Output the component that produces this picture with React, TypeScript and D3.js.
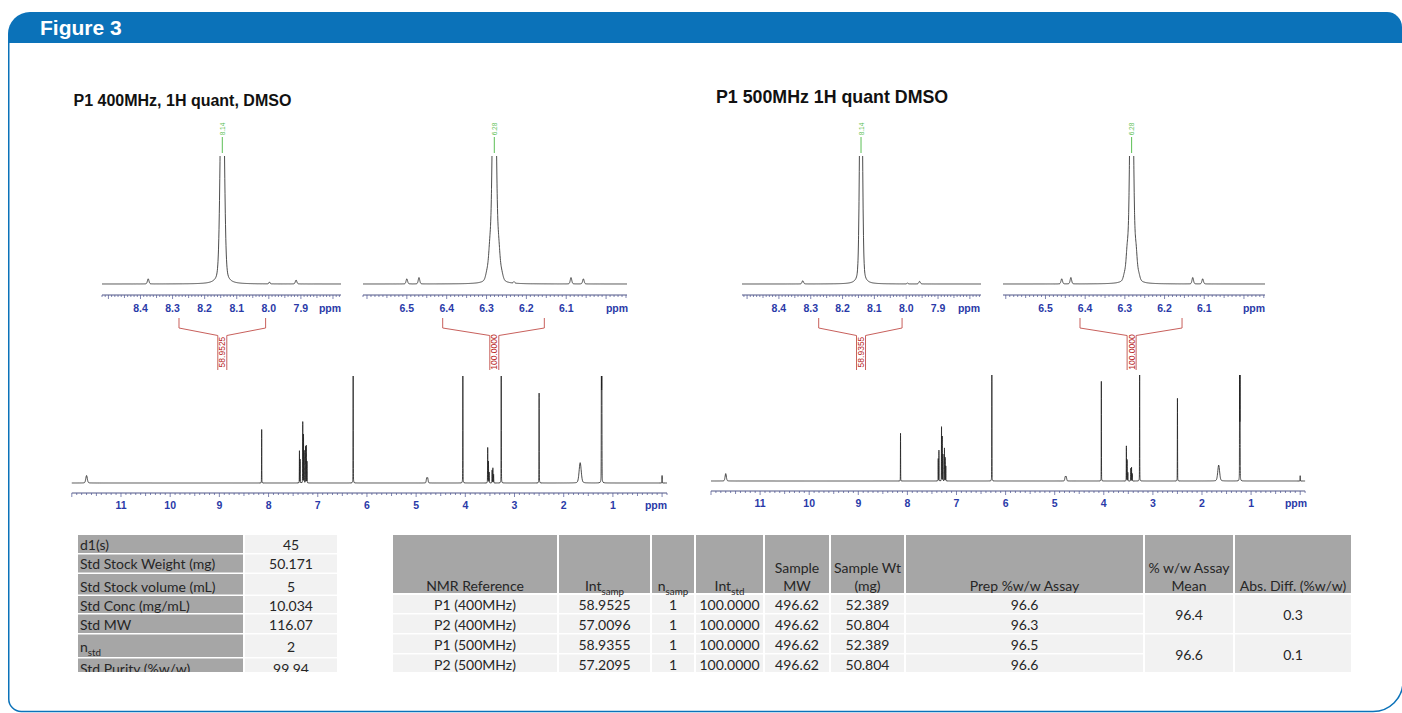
import React from 'react';
import * as d3 from 'd3';

// ---------------- DATA ----------------
const figureLabel = 'Figure 3';
const title400 = 'P1 400MHz, 1H quant, DMSO';
const title500 = 'P1 500MHz 1H quant DMSO';

// peaks: [ppm, relative height (1 = full plot window), half width (ppm)]
const main400Peaks: number[][] = [
  [11.7, 0.07, 0.018],
  [8.14, 0.5, 0.0025],
  [7.372, 0.3, 0.0025], [7.358, 0.22, 0.0025], [7.305, 0.57, 0.0025], [7.29, 0.45, 0.0025],
  [7.275, 0.3, 0.0025], [7.248, 0.34, 0.0025], [7.232, 0.35, 0.0025], [7.218, 0.2, 0.0025],
  [6.28, 1.4, 0.0025],
  [4.785, 0.045, 0.01], [4.765, 0.045, 0.01],
  [4.05, 1.4, 0.0025],
  [3.545, 0.33, 0.003], [3.53, 0.2, 0.003], [3.515, 0.1, 0.003],
  [3.455, 0.12, 0.003], [3.44, 0.14, 0.003], [3.425, 0.08, 0.003],
  [3.27, 1.4, 0.0025],
  [2.5, 0.84, 0.003],
  [1.665, 0.19, 0.025],
  [1.233, 1.4, 0.003], [1.225, 1.4, 0.003],
  [0.0, 0.07, 0.003],
];
const main500Peaks: number[][] = [
  [11.7, 0.07, 0.015],
  [8.14, 0.45, 0.0022],
  [7.372, 0.21, 0.0022], [7.358, 0.29, 0.0022], [7.305, 0.51, 0.0022], [7.29, 0.42, 0.0022],
  [7.275, 0.25, 0.0022], [7.245, 0.31, 0.0022], [7.23, 0.22, 0.0022], [7.218, 0.14, 0.0022],
  [6.28, 1.4, 0.0022],
  [4.785, 0.04, 0.01], [4.765, 0.04, 0.01],
  [4.05, 0.94, 0.0022],
  [3.54, 0.33, 0.0025], [3.525, 0.2, 0.0025], [3.51, 0.08, 0.0025],
  [3.45, 0.12, 0.0025], [3.435, 0.13, 0.0025], [3.42, 0.07, 0.0025],
  [3.27, 1.4, 0.0022],
  [2.5, 0.78, 0.0025],
  [1.66, 0.15, 0.022],
  [1.233, 1.4, 0.0025], [1.225, 1.4, 0.0025],
  [0.0, 0.05, 0.0025],
];
const insetA400Peaks: number[][] = [
  [8.145, 2.34, 0.00625], [8.376, 0.04, 0.0028], [7.998, 0.015, 0.002], [7.915, 0.03, 0.0028],
];
const insetB400Peaks: number[][] = [
  [6.2805, 2.5, 0.0048], [6.2695, 0.22, 0.004], [6.2915, 0.22, 0.004],
  [6.262, 0.05, 0.004], [6.299, 0.05, 0.004],
  [6.5, 0.04, 0.0022], [6.4695, 0.05, 0.0022], [6.231, 0.012, 0.002], [6.088, 0.05, 0.0022], [6.057, 0.04, 0.0022],
];
const insetA500Peaks: number[][] = [
  [8.142, 2.5, 0.0044], [8.325, 0.025, 0.0028], [7.996, 0.008, 0.002], [7.958, 0.02, 0.0028],
];
const insetB500Peaks: number[][] = [
  [6.283, 2.5, 0.0045], [6.272, 0.2, 0.0035], [6.294, 0.2, 0.0035],
  [6.265, 0.04, 0.0035], [6.301, 0.04, 0.0035],
  [6.459, 0.04, 0.0022], [6.436, 0.05, 0.0022], [6.129, 0.05, 0.0022], [6.104, 0.04, 0.0022],
];

// peak labels: [ppm, text]
const peakLabelA400: [number, string] = [8.145, '8.14'];
const peakLabelB400: [number, string] = [6.2805, '6.28'];
const peakLabelA500: [number, string] = [8.142, '8.14'];
const peakLabelB500: [number, string] = [6.283, '6.28'];

// integrals: [from ppm, to ppm, centre ppm, value]
const integralA400: [number, number, number, string] = [8.28, 8.01, 8.145, '58.9525'];
const integralB400: [number, number, number, string] = [6.41, 6.155, 6.2805, '100.0000'];
const integralA500: [number, number, number, string] = [8.275, 8.013, 8.142, '58.9355'];
const integralB500: [number, number, number, string] = [6.413, 6.156, 6.283, '100.0000'];

const insetTicksA = [8.4, 8.3, 8.2, 8.1, 8.0, 7.9];
const insetTicksB = [6.5, 6.4, 6.3, 6.2, 6.1];
const mainTicks = [11, 10, 9, 8, 7, 6, 5, 4, 3, 2, 1];

// left table
const stdLabels = ['d1(s)', 'Std Stock Weight (mg)', 'Std Stock volume (mL)', 'Std Conc (mg/mL)', 'Std MW', 'n|std', 'Std Purity (%w/w)'];
const stdValues = ['45', '50.171', '5', '10.034', '116.07', '2', '99.94'];

// right table
const headerLines: string[][] = [
  ['NMR Reference'], ['Int|samp'], ['n|samp'], ['Int|std'], ['Sample', 'MW'], ['Sample Wt', '(mg)'],
  ['Prep %w/w Assay'], ['% w/w Assay', 'Mean'], ['Abs. Diff. (%w/w)'],
];
const nmrRefs = ['P1 (400MHz)', 'P2 (400MHz)', 'P1 (500MHz)', 'P2 (500MHz)'];
const intSamp = ['58.9525', '57.0096', '58.9355', '57.2095'];
const nSamp = ['1', '1', '1', '1'];
const intStd = ['100.0000', '100.0000', '100.0000', '100.0000'];
const sampleMW = ['496.62', '496.62', '496.62', '496.62'];
const sampleWt = ['52.389', '50.804', '52.389', '50.804'];
const prepAssay = ['96.6', '96.3', '96.5', '96.6'];
const assayMean = ['96.4', '96.6'];
const absDiff = ['0.3', '0.1'];

// ---------------- STYLE / LAYOUT ----------------
const BLUE = '#0b72b9';
const SANS = "'Liberation Sans', Arial, Helvetica, sans-serif";
const TFONT = "Lato, 'Open Sans', sans-serif";
const AXIS_BLUE = '#2a3aa8';
const TXT = '#262626';
const HEAD_BG = '#a6a6a6';
const CELL_BG = '#f2f2f2';
const ETA = 0.25;

function pv(d: number, w: number) {
  const r = d / w;
  return ETA / (1 + r * r) + (1 - ETA) * Math.exp(-Math.LN2 * r * r);
}

function trace(peaks: number[][], dom: [number, number], pxPerPpm: number): number[][] {
  const [a, b] = dom;
  const xs: number[] = [];
  const n = Math.ceil((a - b) * pxPerPpm * 2);
  for (let i = 0; i <= n; i++) xs.push(a - ((a - b) * i) / n);
  for (const [p, , w] of peaks) {
    for (let k = -80; k <= 80; k++) {
      const x = p + (k * w) / 4;
      if (x <= a && x >= b) xs.push(x);
    }
  }
  xs.sort((u, v) => v - u);
  return xs.map((x) => [x, peaks.reduce((s, [p, h, w]) => s + h * pv(x - p, w), 0)]);
}

type SpecProps = {
  id: string;
  peaks: number[][];
  dom: [number, number];
  range: [number, number];
  base: number;
  top: number;
  axisY: number;
  labelY: number;
  ticks: number[];
  minor: number;
  mid: number;
  major: number;
  fmt: (v: number) => string;
  ppmX: number;
  lineW: number;
  fontSize: number;
};

function Spectrum(p: SpecProps) {
  const x = d3.scaleLinear().domain(p.dom).range(p.range);
  const y = d3.scaleLinear().domain([0, 1]).range([p.base, p.top]);
  const pts = trace(p.peaks, p.dom, Math.abs(p.range[1] - p.range[0]) / (p.dom[0] - p.dom[1]));
  const line = d3.line<number[]>().x((d) => x(d[0])).y((d) => y(d[1]));
  const i0 = Math.ceil(p.dom[1] / p.minor - 1e-6);
  const i1 = Math.floor(p.dom[0] / p.minor + 1e-6);
  const midN = Math.round(p.mid / p.minor);
  const majN = Math.round(p.major / p.minor);
  const tickIdx = d3.range(i0, i1 + 1);
  return (
    <g>
      <defs>
        <clipPath id={p.id}>
          <rect x={p.range[0] - 2} y={p.top} width={p.range[1] - p.range[0] + 4} height={p.base - p.top + 6} />
        </clipPath>
      </defs>
      <path d={line(pts) || ''} fill="none" stroke="#1e1e1e" strokeWidth={p.lineW} clipPath={`url(#${p.id})`} />
      <line x1={p.range[0]} x2={p.range[1]} y1={p.axisY} y2={p.axisY} stroke="#3d4478" strokeWidth={0.9} />
      {tickIdx.map((i) => {
        const len = i % majN === 0 ? 4 : i % midN === 0 ? 3 : 2;
        const xx = x(i * p.minor);
        return <line key={i} x1={xx} x2={xx} y1={p.axisY} y2={p.axisY + len} stroke="#4a5290" strokeWidth={0.7} />;
      })}
      {p.ticks.map((t) => (
        <text key={t} x={x(t)} y={p.labelY} textAnchor="middle" fontFamily={SANS} fontWeight="bold" fontSize={p.fontSize} fill={AXIS_BLUE}>
          {p.fmt(t)}
        </text>
      ))}
      <text x={p.ppmX} y={p.labelY} textAnchor="middle" fontFamily={SANS} fontWeight="bold" fontSize={p.fontSize} fill={AXIS_BLUE}>
        ppm
      </text>
    </g>
  );
}

function PeakLabel({ scale, label }: { scale: d3.ScaleLinear<number, number>; label: [number, string] }) {
  const cx = scale(label[0]);
  return (
    <g>
      <text x={cx} y={129} transform={`rotate(-90 ${cx} 129)`} textAnchor="middle" dominantBaseline="central" fontFamily={SANS} fontSize={6.5} fill="#5cbf55">
        {label[1]}
      </text>
      <line x1={cx} x2={cx} y1={137} y2={153} stroke="#5cbf55" strokeWidth={1} />
    </g>
  );
}

function Integral({ scale, integ }: { scale: d3.ScaleLinear<number, number>; integ: [number, number, number, string] }) {
  const xa = scale(integ[0]);
  const xb = scale(integ[1]);
  const cx = scale(integ[2]);
  const g = 4.5;
  const col = '#c8605c';
  const d = `M${xa},318 V328 L${cx - g},335.5 V370 M${xb},318 V328 L${cx + g},335.5 V370`;
  return (
    <g>
      <path d={d} fill="none" stroke={col} strokeWidth={1} />
      <text x={cx} y={352} transform={`rotate(-90 ${cx} 352)`} textAnchor="middle" dominantBaseline="central" fontFamily={SANS} fontSize={8.5} fill="#b81e24">
        {integ[3]}
      </text>
    </g>
  );
}

function SubText({ s, x, y, anchor, size }: { s: string; x: number; y: number; anchor: 'start' | 'middle'; size: number }) {
  const parts = s.split('|');
  return (
    <text x={x} y={y} textAnchor={anchor} fontFamily={TFONT} fontSize={size} fill={TXT}>
      {parts[0]}
      {parts[1] !== undefined && (
        <tspan fontSize={size * 0.7} dy={4}>
          {parts[1]}
        </tspan>
      )}
    </text>
  );
}

// layout constants
const INSET = { base: 284, top: 156, axisY: 295, labelY: 312 };
const LT = { x0: 78, x1: 243, x2: 245, x3: 337 };
const LT_ROWS = [[535, 553], [554.5, 572.5], [574, 594.5], [596, 613], [614.5, 633], [634.5, 657], [658.5, 680]];
const LT_BASE = [550, 569, 592, 611, 630, 652, 674];
const RT_COLS = [393, 558, 651, 695, 764, 830, 905, 1144, 1234, 1352];
const RT_HEAD = [535, 593];
const RT_ROWS = [[595, 613], [614.5, 633], [634.5, 653], [654.5, 680]];
const RT_BASE = [610, 630, 650, 670];

export default function App() {
  const W = 1402;
  const H = 713;

  const fmt1 = d3.format('.1f');
  const fmtI = d3.format('d');

  const xA400 = d3.scaleLinear().domain([8.52, 7.775]).range([102, 341]);
  const xB400 = d3.scaleLinear().domain([6.61, 5.9475]).range([363, 627]);
  const xA500 = d3.scaleLinear().domain([8.516, 7.765]).range([742, 981]);
  const xB500 = d3.scaleLinear().domain([6.607, 5.947]).range([1003, 1265]);

  const cols = [nmrRefs, intSamp, nSamp, intStd, sampleMW, sampleWt, prepAssay];

  const cell = (i: number) => ({ x: RT_COLS[i] + (i === 0 ? 0 : 1), w: RT_COLS[i + 1] - RT_COLS[i] - (i === 0 ? 1 : 2) });

  return (
    <svg width={W} height={H} viewBox={`0 0 ${W} ${H}`} style={{ position: 'absolute', left: 0, top: 0, background: '#fff' }}>
      <defs>
        <clipPath id="tblclip">
          <rect x={0} y={0} width={W} height={672} />
        </clipPath>
      </defs>
      {/* frame */}
      <path d="M8,43 V34 A22,22 0 0 1 30,12 H1387 A15,15 0 0 1 1402,27 V43 Z" fill={BLUE} />
      <path d="M8.75,43 V699 A12.5,12.5 0 0 0 21.25,711.5 H1373 A30,30 0 0 0 1403,681.5 V43" fill="none" stroke={BLUE} strokeWidth={1.5} />
      <text x={40} y={34.5} fontFamily={SANS} fontWeight="bold" fontSize={21} fill="#fff">
        {figureLabel}
      </text>

      {/* titles */}
      <text x={73.5} y={106} fontFamily={SANS} fontWeight="bold" fontSize={16} fill="#111">
        {title400}
      </text>
      <text x={716} y={103} fontFamily={SANS} fontWeight="bold" fontSize={17.8} fill="#111">
        {title500}
      </text>

      {/* insets 400 */}
      <Spectrum id="cA400" peaks={insetA400Peaks} dom={[8.52, 7.775]} range={[102, 341]} {...INSET} ticks={insetTicksA} minor={0.01} mid={0.05} major={0.1} fmt={fmt1} ppmX={330} lineW={0.8} fontSize={10.5} />
      <Spectrum id="cB400" peaks={insetB400Peaks} dom={[6.61, 5.9475]} range={[363, 627]} {...INSET} ticks={insetTicksB} minor={0.01} mid={0.05} major={0.1} fmt={fmt1} ppmX={617} lineW={0.8} fontSize={10.5} />
      <PeakLabel scale={xA400} label={peakLabelA400} />
      <PeakLabel scale={xB400} label={peakLabelB400} />
      <Integral scale={xA400} integ={integralA400} />
      <Integral scale={xB400} integ={integralB400} />

      {/* insets 500 */}
      <Spectrum id="cA500" peaks={insetA500Peaks} dom={[8.516, 7.765]} range={[742, 981]} {...INSET} ticks={insetTicksA} minor={0.01} mid={0.05} major={0.1} fmt={fmt1} ppmX={969} lineW={0.8} fontSize={10.5} />
      <Spectrum id="cB500" peaks={insetB500Peaks} dom={[6.607, 5.947]} range={[1003, 1265]} {...INSET} ticks={insetTicksB} minor={0.01} mid={0.05} major={0.1} fmt={fmt1} ppmX={1254} lineW={0.8} fontSize={10.5} />
      <PeakLabel scale={xA500} label={peakLabelA500} />
      <PeakLabel scale={xB500} label={peakLabelB500} />
      <Integral scale={xA500} integ={integralA500} />
      <Integral scale={xB500} integ={integralB500} />

      {/* main spectra */}
      <Spectrum id="cM400" peaks={main400Peaks} dom={[12, -0.1]} range={[71.8, 667]} base={483} top={376} axisY={493} labelY={509} ticks={mainTicks} minor={0.1} mid={0.5} major={1} fmt={fmtI} ppmX={656} lineW={0.8} fontSize={10.5} />
      <Spectrum id="cM500" peaks={main500Peaks} dom={[12, -0.1]} range={[711, 1305.1]} base={481} top={375} axisY={491} labelY={507} ticks={mainTicks} minor={0.1} mid={0.5} major={1} fmt={fmtI} ppmX={1296} lineW={0.8} fontSize={10.5} />

      {/* left table */}
      <g clipPath="url(#tblclip)">
        {stdLabels.map((lab, i) => (
          <g key={lab}>
            <rect x={LT.x0} y={LT_ROWS[i][0]} width={LT.x1 - LT.x0} height={LT_ROWS[i][1] - LT_ROWS[i][0]} fill={HEAD_BG} />
            <rect x={LT.x2} y={LT_ROWS[i][0]} width={LT.x3 - LT.x2} height={LT_ROWS[i][1] - LT_ROWS[i][0]} fill={CELL_BG} />
            <SubText s={lab} x={80} y={LT_BASE[i]} anchor="start" size={14} />
            <text x={(LT.x2 + LT.x3) / 2} y={LT_BASE[i]} textAnchor="middle" fontFamily={TFONT} fontSize={14} fill={TXT}>
              {stdValues[i]}
            </text>
          </g>
        ))}
      </g>

      {/* right table */}
      <g clipPath="url(#tblclip)">
        {headerLines.map((lines, i) => {
          const c = cell(i);
          return <rect key={'hb' + i} x={c.x} y={RT_HEAD[0]} width={c.w} height={RT_HEAD[1] - RT_HEAD[0]} fill={HEAD_BG} />;
        })}
        {cols.map((col, ci) => {
          const c = cell(ci);
          return col.map((v, ri) => (
            <g key={'c' + ci + '-' + ri}>
              <rect x={c.x} y={RT_ROWS[ri][0]} width={c.w} height={RT_ROWS[ri][1] - RT_ROWS[ri][0]} fill={CELL_BG} />
              <text x={c.x + c.w / 2} y={RT_BASE[ri]} textAnchor="middle" fontFamily={TFONT} fontSize={14} fill={TXT}>
                {v}
              </text>
            </g>
          ));
        })}
        {[assayMean, absDiff].map((col, k) => {
          const c = cell(7 + k);
          return col.map((v, gi) => {
            const y0 = RT_ROWS[gi * 2][0];
            const y1 = RT_ROWS[gi * 2 + 1][1];
            return (
              <g key={'m' + k + gi}>
                <rect x={c.x} y={y0} width={c.w} height={y1 - y0} fill={CELL_BG} />
                <text x={c.x + c.w / 2} y={gi === 0 ? 620 : 660} textAnchor="middle" fontFamily={TFONT} fontSize={14} fill={TXT}>
                  {v}
                </text>
              </g>
            );
          });
        })}
        {headerLines.map((lines, i) => {
          const c = cell(i);
          const cx = c.x + c.w / 2;
          return (
            <g key={'h' + i}>
              {lines.map((ln, j) => (
                <SubText key={j} s={ln} x={cx} y={590.5 - (lines.length - 1 - j) * 17.5} anchor="middle" size={14} />
              ))}
            </g>
          );
        })}
      </g>
    </svg>
  );
}
